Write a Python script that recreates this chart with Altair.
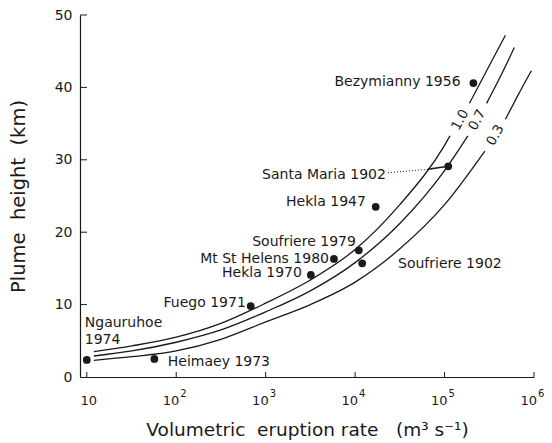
import altair as alt
import pandas as pd

# ---- eruption observations ----
volcano = ["Ngauruhoe 1974", "Heimaey 1973", "Fuego 1971", "Hekla 1970", "Mt St Helens 1980",
           "Soufriere 1979", "Soufriere 1902", "Hekla 1947", "Santa Maria 1902", "Bezymianny 1956"]
rate = [10, 57, 680, 3200, 5800, 11000, 12000, 17000, 110000, 210000]
height = [2.35, 2.5, 9.8, 14.1, 16.3, 17.5, 15.7, 23.5, 29.1, 40.6]

# ---- theoretical curves, part 2 after the inline label ----
c10_rate = [12, 32, 100, 316, 1000, 3160, 10000, 31600, 100000, 115000, 190000, 316000, 479000]
c10_height = [3.5, 4.3, 5.5, 7.4, 10.2, 13.4, 17.6, 23.8, 32.0, 33.3, 37.8, 43.0, 47.2]
c10_part = [1] * 10 + [2] * 3

c07_rate = [12, 32, 100, 316, 1000, 3160, 10000, 31600, 100000, 182000, 295000, 417000, 603000]
c07_height = [2.9, 3.6, 4.8, 6.5, 9.0, 11.9, 15.8, 21.2, 28.5, 33.3, 37.8, 41.4, 45.5]
c07_part = [1] * 10 + [2] * 3

c03_rate = [12, 32, 100, 316, 1000, 3160, 10000, 31600, 100000, 282000, 479000, 661000, 933000]
c03_height = [2.3, 2.8, 3.6, 5.2, 7.6, 10.0, 13.1, 17.7, 23.8, 31.2, 35.6, 38.9, 42.3]
c03_part = [1] * 10 + [2] * 3

# ---- curve labels ----
curve_label = ["1.0", "0.7", "0.3"]
curve_label_rate = [150000, 232000, 370000]
curve_label_height = [35.5, 35.5, 33.4]

# ---- point labels ----
right_text = ["Bezymianny 1956", "Santa Maria 1902", "Hekla 1947", "Soufriere 1979",
              "Mt St Helens 1980", "Hekla 1970", "Fuego 1971"]
right_rate = [151000, 22100, 13200, 10200, 5100, 2540, 600]
right_height = [40.7, 27.9, 24.2, 18.7, 16.3, 14.3, 10.2]

left_text = ["Ngauruhoe", "1974", "Heimaey 1973", "Soufriere 1902"]
left_rate = [9.5, 9.5, 80.5, 30200]
left_height = [7.5, 5.1, 2.1, 15.6]

# Santa Maria leader line
leader_rate = [23300, 65200]
leader_height = [28.2, 28.7]
bar_rate = [65200, 110000]
bar_height = [28.7, 29.1]

# axis ticks and tick labels
x_ticks = [10, 100, 1000, 10000, 100000, 1000000]
x_exponents = ["", "2", "3", "4", "5", "6"]
y_ticks = [0, 10, 20, 30, 40, 50]

FONT = "DejaVu Sans"
INK = "#1a1a1a"
NB = "\u00a0"

pts = pd.DataFrame({"volcano": volcano, "rate": rate, "height": height})
curves = pd.concat([
    pd.DataFrame({"rate": c10_rate, "height": c10_height, "part": c10_part, "curve": "1.0"}),
    pd.DataFrame({"rate": c07_rate, "height": c07_height, "part": c07_part, "curve": "0.7"}),
    pd.DataFrame({"rate": c03_rate, "height": c03_height, "part": c03_part, "curve": "0.3"}),
])
curves["key"] = curves["curve"] + "_" + curves["part"].astype(str)
clab = pd.DataFrame({"t": curve_label, "rate": curve_label_rate, "height": curve_label_height})
rlab = pd.DataFrame({"t": right_text, "rate": right_rate, "height": right_height})
llab = pd.DataFrame({"t": left_text, "rate": left_rate, "height": left_height})
lead = pd.DataFrame({"r1": [leader_rate[0]], "r2": [leader_rate[1]],
                     "h1": [leader_height[0]], "h2": [leader_height[1]]})
bar = pd.DataFrame({"r1": [bar_rate[0]], "r2": [bar_rate[1]],
                    "h1": [bar_height[0]], "h2": [bar_height[1]]})
xt = pd.DataFrame({"v": x_ticks, "e": x_exponents})
yt = pd.DataFrame({"v": y_ticks[1:]})

xscale = alt.Scale(type="log", domain=[8.4, 1000000], nice=False)
yscale = alt.Scale(domain=[0, 50], nice=False)

xaxis = alt.Axis(
    values=x_ticks, labels=False, tickSize=0, grid=False,
    domainColor=INK, domainWidth=1.2,
    title=f"Volumetric{NB}{NB}eruption{NB}rate{NB}{NB}{NB}(m³ s⁻¹)", titleFont=FONT,
    titleFontSize=18.5, titleFontWeight="normal", titleColor=INK, titleY=52,
    titleBaseline="middle",
)
yaxis = alt.Axis(
    values=y_ticks, tickSize=0, grid=False, labelPadding=8, labelFontSize=14, labelFont=FONT,
    labelColor=INK, domainColor=INK, domainWidth=1.2,
    title=f"Plume{NB}{NB}height{NB}{NB}(km)", titleFont=FONT, titleFontSize=19.5,
    titleFontWeight="normal", titleColor=INK, titleX=-62, titleBaseline="middle",
)

base_x = alt.X("rate:Q", scale=xscale, axis=xaxis)
base_y = alt.Y("height:Q", scale=yscale, axis=yaxis)

lines = alt.Chart(curves).mark_line(color=INK, strokeWidth=1.3, interpolate="monotone").encode(
    x=base_x, y=base_y, detail="key:N", order="rate:Q")

dots = alt.Chart(pts).mark_circle(color=INK, size=60, opacity=1).encode(
    x=alt.X("rate:Q", scale=xscale), y=alt.Y("height:Q", scale=yscale))

rtext = alt.Chart(rlab).mark_text(align="right", baseline="middle", font=FONT, fontSize=14,
                                  color=INK).encode(
    x=alt.X("rate:Q", scale=xscale), y=alt.Y("height:Q", scale=yscale), text="t:N")
ltext = alt.Chart(llab).mark_text(align="left", baseline="middle", font=FONT, fontSize=14,
                                  color=INK).encode(
    x=alt.X("rate:Q", scale=xscale), y=alt.Y("height:Q", scale=yscale), text="t:N")
ctext = alt.Chart(clab).mark_text(align="center", baseline="middle", font=FONT, fontSize=13.5,
                                  color=INK, angle=298).encode(
    x=alt.X("rate:Q", scale=xscale), y=alt.Y("height:Q", scale=yscale), text="t:N")

leader = alt.Chart(lead).mark_rule(color=INK, strokeWidth=1, strokeDash=[1, 2]).encode(
    x=alt.X("r1:Q", scale=xscale), x2="r2:Q", y=alt.Y("h1:Q", scale=yscale), y2="h2:Q")
solid = alt.Chart(bar).mark_rule(color=INK, strokeWidth=1.5).encode(
    x=alt.X("r1:Q", scale=xscale), x2="r2:Q", y=alt.Y("h1:Q", scale=yscale), y2="h2:Q")

xtick = alt.Chart(xt).mark_rule(color=INK, strokeWidth=1).encode(
    x=alt.X("v:Q", scale=xscale), y=alt.value(362), y2=alt.value(357))
ytick = alt.Chart(yt).mark_rule(color=INK, strokeWidth=1).encode(
    y=alt.Y("v:Q", scale=yscale), x=alt.value(0), x2=alt.value(7))

# manual x tick labels: "10" with a raised exponent
first_lab = alt.Chart(xt).transform_filter("datum.e == ''").mark_text(
    align="center", baseline="middle", font=FONT, fontSize=13, color=INK, dx=2).encode(
    x=alt.X("v:Q", scale=xscale), y=alt.value(386), text=alt.value("10"))
base_lab = alt.Chart(xt).transform_filter("datum.e != ''").mark_text(
    align="right", baseline="middle", font=FONT, fontSize=13, color=INK, dx=3).encode(
    x=alt.X("v:Q", scale=xscale), y=alt.value(386), text=alt.value("10"))
exp_lab = alt.Chart(xt).transform_filter("datum.e != ''").mark_text(
    align="left", baseline="middle", font=FONT, fontSize=10, color=INK, dx=4).encode(
    x=alt.X("v:Q", scale=xscale), y=alt.value(379), text="e:N")

chart = alt.layer(lines, xtick, ytick, leader, solid, dots, rtext, ltext, ctext,
                  first_lab, base_lab, exp_lab).properties(
    width=454, height=362,
    padding={"left": 72, "top": 7, "right": 10, "bottom": 66},
    autosize=alt.AutoSizeParams(type="none"),
    background="white",
).configure_view(stroke=None)

chart.save("out.html", embed_options={"renderer": "svg", "actions": False})
